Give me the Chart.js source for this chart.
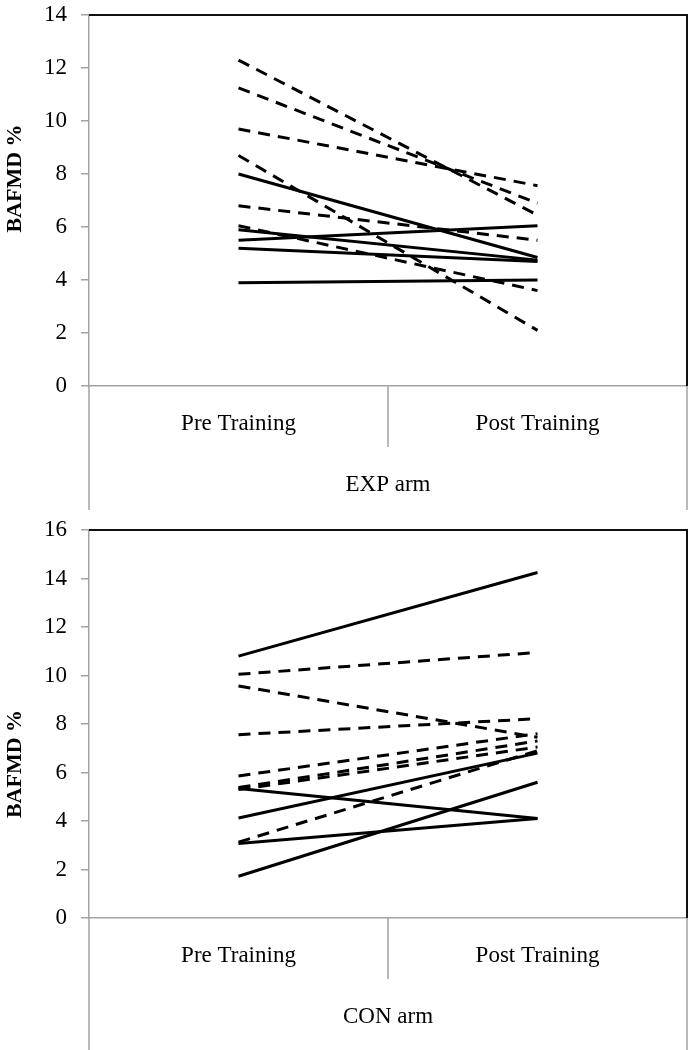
<!DOCTYPE html>
<html>
<head>
<meta charset="utf-8">
<script src="https://cdn.jsdelivr.net/npm/chart.js@4.4.1/dist/chart.umd.min.js"></script>
<style>
  html, body { margin: 0; padding: 0; background: #fff; }
  #wrap { position: relative; width: 691px; height: 1050px; overflow: hidden; }
  canvas { position: absolute; left: 0; }
</style>
</head>
<body>
<div id="wrap">
  <canvas id="top" width="691" height="515" style="top:0"></canvas>
  <canvas id="bot" width="691" height="535" style="top:515px"></canvas>
</div>
<script>
// ---- data ----
const categories = ['Pre Training', 'Post Training'];
const yTitle = 'BAFMD %';

const expGroup = 'EXP arm';
const expDashedPre  = [12.3, 11.25, 9.7, 8.7, 6.8, 6.05];
const expDashedPost = [6.45, 6.9, 7.56, 2.1, 5.5, 3.6];
const expSolidPre   = [8.0, 5.9, 5.5, 5.2, 3.9];
const expSolidPost  = [4.85, 4.75, 6.05, 4.7, 4.0];
const expYMax = 14;

const conGroup = 'CON arm';
const conDashedPre  = [10.05, 9.57, 7.56, 5.86, 5.38, 5.3, 3.13];
const conDashedPost = [10.95, 7.45, 8.22, 7.6, 7.3, 7.05, 6.9];
const conSolidPre   = [10.8, 5.34, 4.12, 3.07, 1.72];
const conSolidPost  = [14.25, 4.1, 6.8, 4.1, 5.6];
const conYMax = 16;

const yStep = 2;

// ---- helpers ----
const SERIF = '"Liberation Serif", "Times New Roman", serif';
const GREY = '#a3a3a3';

function buildDatasets(dPre, dPost, sPre, sPost) {
  const ds = [];
  dPre.forEach((v, i) => ds.push({
    data: [v, dPost[i]], borderColor: '#000', borderWidth: 3,
    borderDash: [12, 8], pointRadius: 0, fill: false, tension: 0
  }));
  sPre.forEach((v, i) => ds.push({
    data: [v, sPost[i]], borderColor: '#000', borderWidth: 3,
    pointRadius: 0, fill: false, tension: 0
  }));
  return ds;
}

const decor = {
  id: 'decor',
  afterDraw(chart, args, opts) {
    const { ctx, chartArea: a } = chart;
    const xs = chart.scales.x;
    ctx.save();
    // extended category-axis lines
    ctx.strokeStyle = GREY; ctx.lineWidth = 1.5;
    const mid = (xs.getPixelForTick(0) + xs.getPixelForTick(1)) / 2;
    ctx.beginPath();
    ctx.moveTo(a.left, a.bottom); ctx.lineTo(a.left, opts.extBottom);
    ctx.moveTo(a.right, a.bottom); ctx.lineTo(a.right, opts.extBottom);
    ctx.moveTo(mid, a.bottom); ctx.lineTo(mid, a.bottom + 61);
    ctx.stroke();
    // plot frame top & right
    ctx.strokeStyle = '#111'; ctx.lineWidth = 2;
    ctx.beginPath();
    ctx.moveTo(a.left, a.top); ctx.lineTo(a.right, a.top); ctx.lineTo(a.right, a.bottom);
    ctx.stroke();
    // group label
    ctx.fillStyle = '#000';
    ctx.font = '23px ' + SERIF;
    ctx.textAlign = 'center'; ctx.textBaseline = 'middle';
    ctx.fillText(opts.group, (a.left + a.right) / 2, a.bottom + 99);
    // y-axis title
    ctx.font = 'bold 22px ' + SERIF;
    ctx.translate(15, (a.top + a.bottom) / 2 + opts.titleShift);
    ctx.rotate(-Math.PI / 2);
    ctx.fillText(yTitle, 0, 0);
    ctx.restore();
  }
};

function makeChart(id, datasets, ymax, group, xHeight, extBottom, titleShift) {
  return new Chart(document.getElementById(id), {
    type: 'line',
    data: { labels: categories, datasets },
    options: {
      responsive: false, animation: false,
      devicePixelRatio: 1,
      layout: { padding: { top: 15, right: 4, left: 0, bottom: 0 } },
      plugins: { legend: { display: false }, tooltip: { enabled: false },
                 decor: { group, extBottom, titleShift } },
      scales: {
        x: {
          type: 'category', offset: true,
          grid: { display: false, drawTicks: false },
          border: { display: true, color: GREY, width: 1.5 },
          ticks: { color: '#000', font: { family: SERIF, size: 23 }, padding: 24, maxRotation: 0 },
          afterFit(s) { s.height = xHeight; s.paddingLeft = 0; s.paddingRight = 0; }
        },
        y: {
          min: 0, max: ymax,
          grid: { drawOnChartArea: false, drawTicks: true, tickLength: 8, color: GREY, lineWidth: 1.5 },
          border: { display: true, color: GREY, width: 1.5 },
          ticks: { stepSize: yStep, color: '#000', font: { family: SERIF, size: 23 }, padding: 14 },
          afterFit(s) { s.width = 89; s.paddingTop = 0; s.paddingBottom = 0; }
        }
      }
    },
    plugins: [decor]
  });
}

makeChart('top', buildDatasets(expDashedPre, expDashedPost, expSolidPre, expSolidPost),
          expYMax, expGroup, 129, 510, -22);
makeChart('bot', buildDatasets(conDashedPre, conDashedPost, conSolidPre, conSolidPost),
          conYMax, conGroup, 132, 535, 40);
</script>
</body>
</html>
